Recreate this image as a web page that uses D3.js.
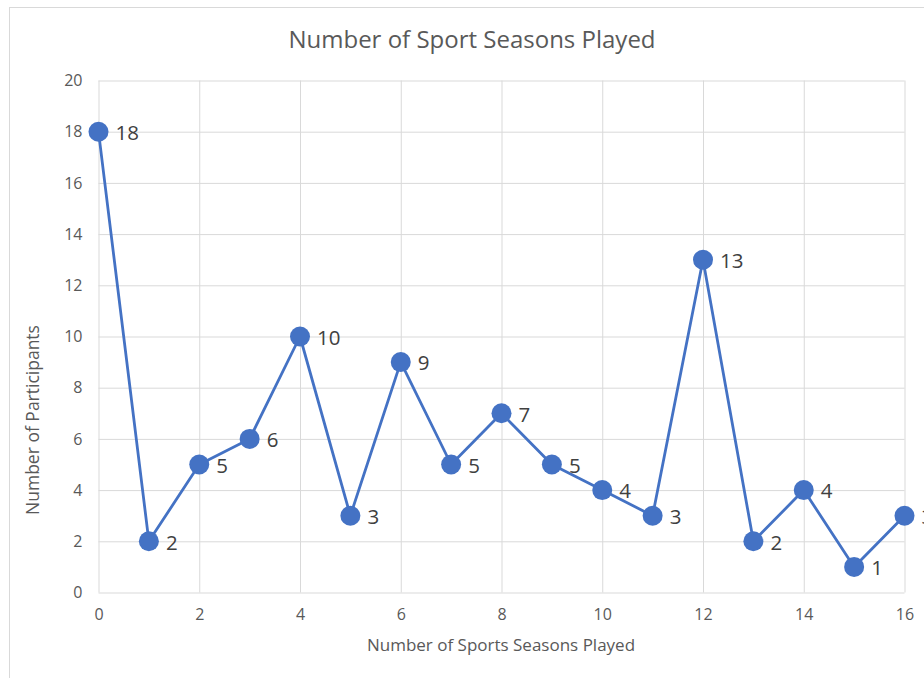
<!DOCTYPE html>
<html>
<head>
<meta charset="utf-8">
<script src="https://cdn.jsdelivr.net/npm/d3@7"></script>
<style>
  html, body { margin: 0; padding: 0; background: #fff; overflow: hidden; }
  svg { display: block; font-family: "Open Sans", sans-serif; }
</style>
</head>
<body>
<svg id="chart" width="924" height="678"></svg>
<script>
// Number of sport seasons played vs. number of participants
const seasons = [0, 1, 2, 3, 4, 5, 6, 7, 8, 9, 10, 11, 12, 13, 14, 15, 16];
const participants = [18, 2, 5, 6, 10, 3, 9, 5, 7, 5, 4, 3, 13, 2, 4, 1, 3];
const xTicks = [0, 2, 4, 6, 8, 10, 12, 14, 16];
const yTicks = [0, 2, 4, 6, 8, 10, 12, 14, 16, 18, 20];

const titleText = "Number of Sport Seasons Played";
const xTitle = "Number of Sports Seasons Played";
const yTitle = "Number of Participants";

const svg = d3.select("#chart");
const plot = { left: 98.5, right: 904.5, top: 80.5, bottom: 592.5 };
const gridColor = "#d9d9d9";
const textColor = "#595959";
const seriesColor = "#4472C4";

// Outer chart frame
svg.append("rect")
  .attr("x", 9.5).attr("y", 7.5)
  .attr("width", 960).attr("height", 720)
  .attr("fill", "#fff")
  .attr("stroke", gridColor).attr("stroke-width", 1);

const x = d3.scaleLinear().domain([0, 16]).range([plot.left, plot.right]);
const y = d3.scaleLinear().domain([0, 20]).range([plot.bottom, plot.top]);

// Horizontal gridlines + y tick labels
const yAxis = d3.axisLeft(y)
  .tickValues(yTicks)
  .tickSize(-(plot.right - plot.left))
  .tickPadding(16)
  .tickFormat(d3.format("d"));
const gy = svg.append("g")
  .attr("transform", `translate(${plot.left},0)`)
  .call(yAxis);
gy.select(".domain").remove();
gy.selectAll(".tick line").attr("stroke", gridColor).attr("stroke-width", 1);
gy.selectAll(".tick text")
  .attr("fill", textColor)
  .style("font-size", "16px")
  .style("font-family", "'Open Sans', sans-serif");

// Vertical gridlines + x tick labels
const xAxis = d3.axisBottom(x)
  .tickValues(xTicks)
  .tickSize(-(plot.bottom - plot.top))
  .tickPadding(16)
  .tickFormat(d3.format("d"));
const gx = svg.append("g")
  .attr("transform", `translate(0,${plot.bottom})`)
  .call(xAxis);
gx.select(".domain").remove();
gx.selectAll(".tick line").attr("stroke", gridColor).attr("stroke-width", 1);
gx.selectAll(".tick text")
  .attr("fill", textColor)
  .style("font-size", "16px")
  .style("font-family", "'Open Sans', sans-serif");

// Series line
const line = d3.line()
  .x((d, i) => x(seasons[i]))
  .y(d => y(d));
svg.append("path")
  .datum(participants)
  .attr("d", line)
  .attr("fill", "none")
  .attr("stroke", seriesColor)
  .attr("stroke-width", 2.8)
  .attr("stroke-linejoin", "round");

// Markers
svg.append("g").selectAll("circle")
  .data(participants)
  .join("circle")
  .attr("cx", (d, i) => x(seasons[i]))
  .attr("cy", d => y(d))
  .attr("r", 10)
  .attr("fill", seriesColor);

// Data labels, to the right of each point
svg.append("g").selectAll("text")
  .data(participants)
  .join("text")
  .attr("x", (d, i) => x(seasons[i]) + 17)
  .attr("y", d => y(d))
  .attr("dy", "0.4em")
  .attr("fill", "#404040")
  .style("font-size", "20.5px")
  .text(d => d);

// Chart title
svg.append("text")
  .attr("x", 472).attr("y", 48)
  .attr("text-anchor", "middle")
  .attr("fill", textColor)
  .style("font-size", "24px")
  .text(titleText);

// Axis titles
svg.append("text")
  .attr("x", 501).attr("y", 651)
  .attr("text-anchor", "middle")
  .attr("fill", textColor)
  .style("font-size", "17px")
  .text(xTitle);

svg.append("text")
  .attr("transform", "translate(39,420) rotate(-90)")
  .attr("text-anchor", "middle")
  .attr("fill", textColor)
  .style("font-size", "17.5px")
  .text(yTitle);
</script>
</body>
</html>
